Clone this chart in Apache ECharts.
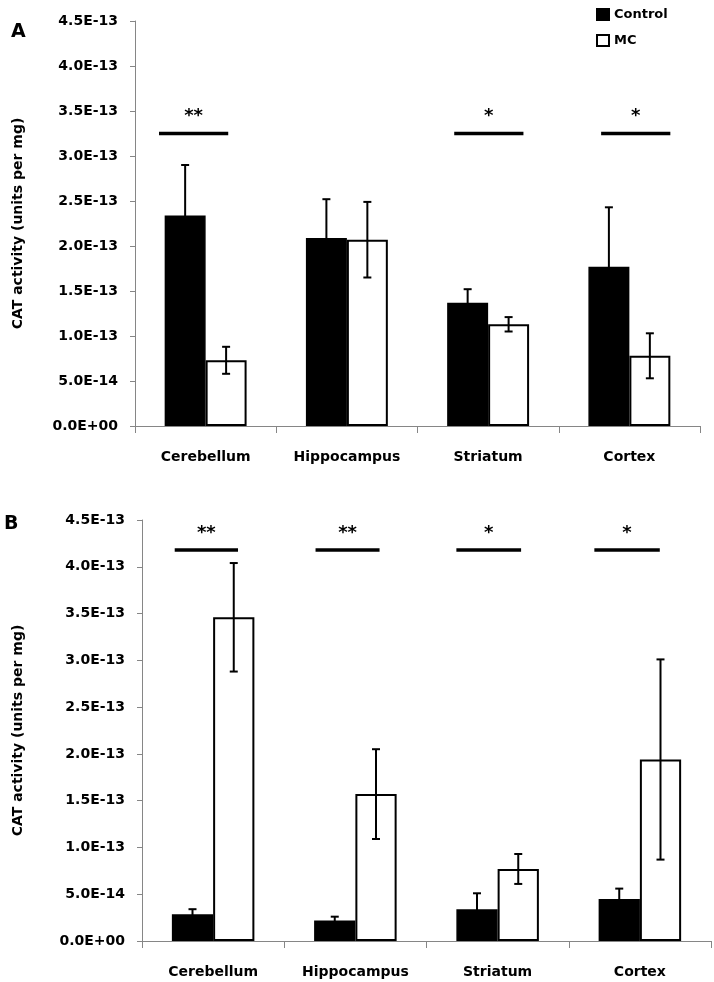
<!DOCTYPE html>
<html>
<head>
<meta charset="utf-8">
<script src="https://cdn.jsdelivr.net/npm/echarts@6/dist/echarts.min.js"></script>
<style>
  html, body { margin: 0; padding: 0; background: #fff; }
  #chart { width: 714px; height: 982px; }
</style>
</head>
<body>
<div id="chart"></div>
<script>
const regions = ['Cerebellum', 'Hippocampus', 'Striatum', 'Cortex'];
const yTicks = { min: 0, max: 4.5e-13, interval: 0.5e-13 };

// panel A
const controlA = [2.34e-13, 2.09e-13, 1.37e-13, 1.77e-13];
const controlErrA = [0.56e-13, 0.43e-13, 0.15e-13, 0.66e-13];
const mcA = [0.73e-13, 2.07e-13, 1.13e-13, 0.78e-13];
const mcErrA = [0.15e-13, 0.42e-13, 0.08e-13, 0.25e-13];
// significance: [category, level, from, to, stars]
const sigA = [
  [0, 3.25e-13, -0.33, 0.16, '**'],
  [2, 3.25e-13, -0.24, 0.25, '*'],
  [3, 3.25e-13, -0.20, 0.29, '*']
];

// panel B
const controlB = [0.285e-13, 0.22e-13, 0.34e-13, 0.45e-13];
const controlErrB = [0.055e-13, 0.04e-13, 0.17e-13, 0.11e-13];
const mcB = [3.46e-13, 1.57e-13, 0.77e-13, 1.94e-13];
const mcErrB = [0.58e-13, 0.48e-13, 0.16e-13, 1.07e-13];
const sigB = [
  [0, 4.18e-13, -0.27, 0.175, '**'],
  [1, 4.18e-13, -0.28, 0.17, '**'],
  [2, 4.18e-13, -0.29, 0.165, '*'],
  [3, 4.18e-13, -0.32, 0.14, '*']
];

const BAR_W = 0.29;
const FONT = 'DejaVu Sans';

const chart = echarts.init(document.getElementById('chart'));

function sci(v) {
  const s = Number(v).toExponential(1);
  const [m, ex] = s.split('e');
  return m + 'E' + ex[0] + ex.slice(1).padStart(2, '0');
}

function errSeries(idx, means, errs, side) {
  return {
    type: 'custom',
    xAxisIndex: idx,
    yAxisIndex: idx,
    silent: true,
    z: 5,
    data: means.map((m, i) => [i, m, errs[i]]),
    renderItem: (params, api) => {
      const i = api.value(0);
      const mean = api.value(1);
      const err = api.value(2);
      const band = api.size([1, 0])[0];
      const x = api.coord([i, mean])[0] + side * band * BAR_W / 2;
      const yTop = api.coord([i, mean + err])[1];
      const yBot = api.coord([i, mean - err])[1];
      const style = { stroke: '#000', lineWidth: 2 };
      return {
        type: 'group',
        children: [
          { type: 'line', shape: { x1: x, y1: yTop, x2: x, y2: yBot }, style },
          { type: 'line', shape: { x1: x - 4, y1: yTop, x2: x + 4, y2: yTop }, style },
          { type: 'line', shape: { x1: x - 4, y1: yBot, x2: x + 4, y2: yBot }, style }
        ]
      };
    }
  };
}

function sigSeries(idx, sig) {
  return {
    type: 'custom',
    xAxisIndex: idx,
    yAxisIndex: idx,
    silent: true,
    z: 6,
    data: sig,
    renderItem: (params, api) => {
      const item = sig[params.dataIndex];
      const band = api.size([1, 0])[0];
      const p = api.coord([item[0], item[1]]);
      const x1 = p[0] + item[2] * band;
      const x2 = p[0] + item[3] * band;
      return {
        type: 'group',
        children: [
          { type: 'line', shape: { x1, y1: p[1], x2, y2: p[1] },
            style: { stroke: '#000', lineWidth: 3.5 } },
          { type: 'text', x: (x1 + x2) / 2, y: p[1] - 17,
            style: { text: item[4], fill: '#000', font: 'bold 18px ' + FONT,
                     align: 'center', verticalAlign: 'middle' } }
        ]
      };
    }
  };
}

const option = {
  animation: false,
  backgroundColor: '#fff',
  textStyle: { fontFamily: FONT },
  legend: {
    data: ['Control', 'MC'],
    orient: 'vertical',
    left: 591,
    top: 3,
    itemWidth: 12,
    itemHeight: 11,
    itemGap: 13,
    icon: 'rect',
    textStyle: { fontFamily: FONT, fontWeight: 'bold', fontSize: 13, color: '#000' }
  },
  graphic: [
    { type: 'text', left: 11, top: 23, style: { text: 'A', font: 'bold 19px ' + FONT, fill: '#000' } },
    { type: 'text', left: 4, top: 515, style: { text: 'B', font: 'bold 19px ' + FONT, fill: '#000' } }
  ],
  grid: [
    { left: 135, top: 21, width: 565, height: 405, outerBoundsMode: 'none' },
    { left: 142, top: 520, width: 569, height: 421, outerBoundsMode: 'none' }
  ],
  xAxis: [0, 1].map((i) => ({
    type: 'category',
    gridIndex: i,
    data: regions,
    axisLine: { lineStyle: { color: '#868686', width: 1 } },
    axisTick: { show: true, length: 7, lineStyle: { color: '#868686' } },
    axisLabel: { color: '#000', fontWeight: 'bold', fontSize: 14, fontFamily: FONT, margin: 24 }
  })),
  yAxis: [0, 1].map((i) => ({
    type: 'value',
    gridIndex: i,
    min: yTicks.min,
    max: yTicks.max,
    interval: yTicks.interval,
    name: 'CAT activity (units per mg)',
    nameLocation: 'middle',
    nameGap: i === 0 ? 110 : 117,
    nameTextStyle: { color: '#000', fontWeight: 'bold', fontSize: 14, fontFamily: FONT },
    axisLine: { show: true, lineStyle: { color: '#868686', width: 1 } },
    axisTick: { show: true, length: 5, lineStyle: { color: '#868686' } },
    splitLine: { show: false },
    axisLabel: { color: '#000', fontWeight: 'bold', fontSize: 14, fontFamily: FONT, margin: 17, formatter: sci }
  })),
  series: [
    { name: 'Control', type: 'bar', xAxisIndex: 0, yAxisIndex: 0, data: controlA,
      barWidth: (BAR_W * 100) + '%', barGap: '0%',
      itemStyle: { color: '#000', borderColor: '#000', borderWidth: 1.5 } },
    { name: 'MC', type: 'bar', xAxisIndex: 0, yAxisIndex: 0, data: mcA,
      barWidth: (BAR_W * 100) + '%', barGap: '0%',
      itemStyle: { color: '#fff', borderColor: '#000', borderWidth: 2 } },
    errSeries(0, controlA, controlErrA, -1),
    errSeries(0, mcA, mcErrA, 1),
    sigSeries(0, sigA),
    { name: 'Control', type: 'bar', xAxisIndex: 1, yAxisIndex: 1, data: controlB,
      barWidth: (BAR_W * 100) + '%', barGap: '0%',
      itemStyle: { color: '#000', borderColor: '#000', borderWidth: 1.5 } },
    { name: 'MC', type: 'bar', xAxisIndex: 1, yAxisIndex: 1, data: mcB,
      barWidth: (BAR_W * 100) + '%', barGap: '0%',
      itemStyle: { color: '#fff', borderColor: '#000', borderWidth: 2 } },
    errSeries(1, controlB, controlErrB, -1),
    errSeries(1, mcB, mcErrB, 1),
    sigSeries(1, sigB)
  ]
};

chart.setOption(option);
</script>
</body>
</html>
